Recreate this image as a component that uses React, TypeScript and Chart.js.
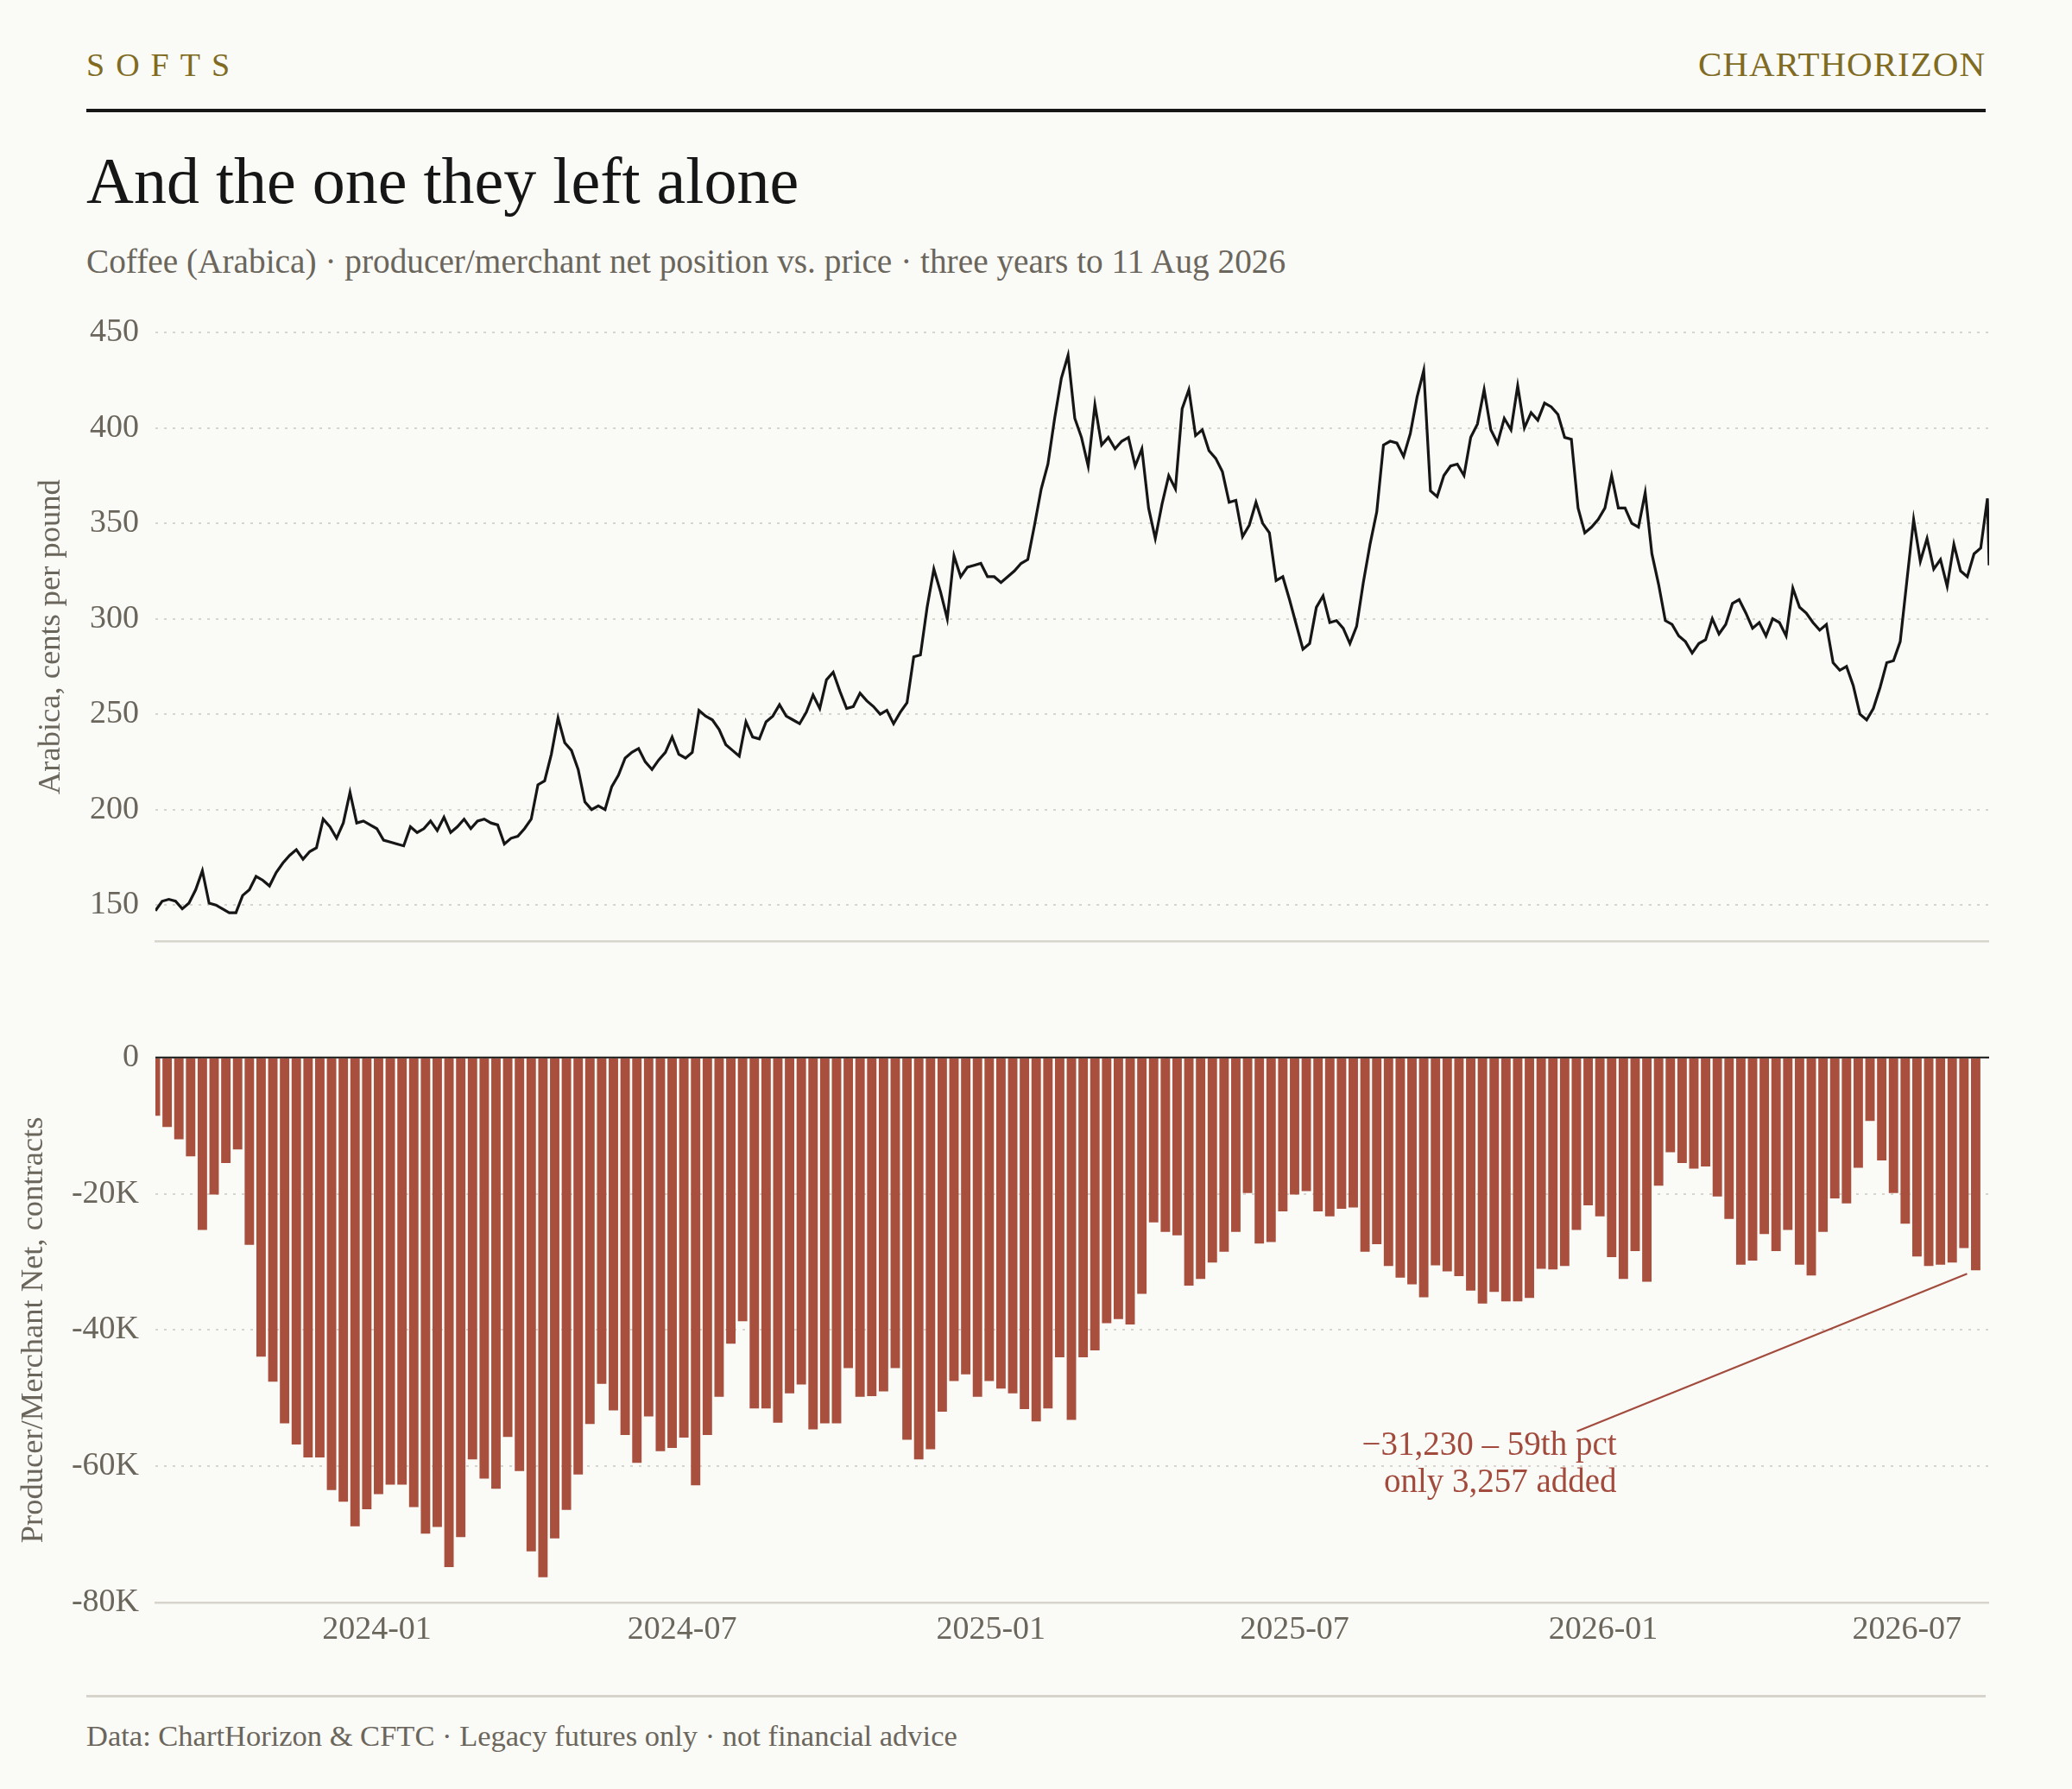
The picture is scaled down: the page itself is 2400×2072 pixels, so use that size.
import { useEffect, useRef } from "react";
import { Chart, registerables } from "chart.js";

Chart.register(...registerables);

const SERIF = "'Liberation Serif', 'Times New Roman', serif";
const BG = "#FAFAF7";
const INK = "#161616";
const MUTED = "#6b665c";
const GOLD = "#806b22";
const GRID = "#d6d4cc";
const AXIS = "#d6d4cb";
const BAR = "#a84f3e";
const RUST = "#a24b3c";

Chart.defaults.font.family = SERIF;

// x axis counts days from the first weekly COT print (Tue 22 Aug 2023)
const START_DATE = Date.UTC(2023, 7, 22);
const DAY_MS = 86400000;
const X_MAX_DAY = 1093;

const xTickLabels = ["2024-01", "2024-07", "2025-01", "2025-07", "2026-01", "2026-07"];
const priceTicks = [150, 200, 250, 300, 350, 400, 450];
const netTicks = [0, -20000, -40000, -60000, -80000];

// Arabica front month, cents/lb, one reading every 4 days
const PRICE_STEP_DAYS = 4;
const priceValues = [
  147, 152, 153, 152, 148, 151, 158, 168, 151, 150,
  148, 146, 146, 155, 158, 165, 163, 160, 167, 172,
  176, 179, 174, 178, 180, 195, 191, 185, 193, 209,
  193, 194, 192, 190, 184, 183, 182, 181, 191, 188,
  190, 194, 189, 196, 188, 191, 195, 190, 194, 195,
  193, 192, 182, 185, 186, 190, 195, 213, 215, 229,
  248, 235, 231, 221, 204, 200, 202, 200, 212, 218,
  227, 230, 232, 225, 221, 226, 230, 238, 229, 227,
  230, 252, 249, 247, 242, 234, 231, 228, 246, 238,
  237, 246, 249, 255, 249, 247, 245, 251, 260, 253,
  268, 272, 262, 253, 254, 261, 257, 254, 250, 252,
  245, 251, 256, 280, 281, 306, 326, 314, 300, 333,
  322, 327, 328, 329, 322, 322, 319, 322, 325, 329,
  331, 349, 368, 381, 405, 426, 438, 405, 395, 380,
  412, 391, 395, 389, 393, 395, 380, 389, 358, 342,
  360, 375, 368, 410, 420, 396, 399, 388, 384, 377,
  361, 362, 343, 349, 361, 350, 345, 320, 322, 310,
  297, 284, 287, 306, 312, 298, 299, 295, 287, 296,
  319, 339, 356, 391, 393, 392, 385, 397, 416, 430,
  367, 364, 375, 380, 381, 375, 395, 402, 420, 399,
  392, 405, 399, 422, 400, 408, 404, 413, 411, 407,
  395, 394, 358, 345, 348, 352, 358, 375, 358, 358,
  350, 348, 366, 334, 318, 299, 297, 291, 288, 282,
  287, 289, 300, 292, 297, 308, 310, 303, 295, 298,
  291, 300, 298, 291, 316, 306, 303, 298, 294, 297,
  277, 273, 275, 265, 250, 247, 253, 264, 277, 278,
  288, 320, 352, 330, 342, 326, 331, 317, 339, 325,
  322, 334, 337, 363,
];
const priceLastClose = 328;

// Producer/merchant net position, contracts, weekly
const netWeekly = [
  -8560, -10200, -12000, -14500, -25300, -20100, -15500, -13500, -27500, -43900,
  -47600, -53700, -56800, -58700, -58700, -63500, -65200, -68800, -66300, -64100,
  -62700, -62700, -66000, -69900, -68900, -74800, -70400, -59000, -61800, -63300,
  -55700, -60700, -72500, -76300, -70600, -66400, -61200, -53800, -47900, -51800,
  -55400, -59500, -52700, -57800, -57300, -55800, -62800, -55400, -49800, -42000,
  -38700, -51500, -51500, -53600, -49300, -48000, -54600, -53700, -53700, -45600,
  -49800, -49700, -49000, -45600, -56100, -59000, -57500, -52000, -47500, -46500,
  -49800, -47500, -48600, -49300, -51600, -53400, -51500, -44000, -53200, -44000,
  -43000, -39000, -38400, -39200, -34700, -24200, -25600, -26100, -33500, -32500,
  -30100, -28500, -25600, -19900, -27300, -27100, -22600, -20100, -19600, -22600,
  -23300, -22200, -22000, -28500, -27400, -30600, -32300, -33300, -35200, -30500,
  -31400, -32100, -34200, -36100, -34400, -35800, -35800, -35300, -31000, -31100,
  -30600, -25300, -21700, -23300, -29300, -32500, -28400, -32900, -18800, -13900,
  -15500, -16300, -16000, -20400, -23700, -30400, -29800, -25900, -28400, -25300,
  -30400, -32000, -25600, -20700, -21400, -16200, -9300, -15100, -19900, -24400,
  -29200, -30600, -30400, -30100, -27973, -31230,
];
const calloutPercentile = 59;
// where the callout text sits, in chart units (day, contracts)
const callout = { day: 871, value: -58300 };

const dayOfMonthLabel = (label: string) => {
  const [y, m] = label.split("-").map(Number);
  return (Date.UTC(y, m - 1, 1) - START_DATE) / DAY_MS;
};

const fmtK = (v: number) => (v === 0 ? "0" : `${v / 1000}K`);
const fmtInt = (v: number) => Math.abs(v).toLocaleString("en-US");

const tickFont = { size: 38, family: SERIF };
const titleFont = { size: 36.5, family: SERIF };

const calloutPlugin = {
  id: "callout",
  afterDatasetsDraw(chart: any) {
    const { ctx, chartArea, scales } = chart;
    const x = scales.x;
    const y = scales.y;
    ctx.save();
    // zero line over the bars
    const y0 = y.getPixelForValue(0);
    ctx.strokeStyle = INK;
    ctx.lineWidth = 2;
    ctx.beginPath();
    ctx.moveTo(chartArea.left, y0);
    ctx.lineTo(chartArea.right, y0);
    ctx.stroke();

    const last = netWeekly.length - 1;
    const bx = x.getPixelForValue(last * 7);
    const by = y.getPixelForValue(netWeekly[last]);
    const tx = x.getPixelForValue(callout.day);
    const ty = y.getPixelForValue(callout.value);
    ctx.strokeStyle = RUST;
    ctx.lineWidth = 2.2;
    ctx.beginPath();
    ctx.moveTo(tx - 46, ty - 27);
    ctx.lineTo(bx - 10, by + 4);
    ctx.stroke();

    const added = netWeekly[last - 1] - netWeekly[last];
    ctx.fillStyle = RUST;
    ctx.font = `39px ${SERIF}`;
    ctx.textAlign = "right";
    ctx.textBaseline = "alphabetic";
    ctx.fillText(`\u2212${fmtInt(netWeekly[last])} \u2013 ${calloutPercentile}th pct`, tx, ty);
    ctx.fillText(`only ${fmtInt(added)} added`, tx, ty + 43);
    ctx.restore();
  },
};

export default function App() {
  const priceRef = useRef<HTMLCanvasElement>(null);
  const netRef = useRef<HTMLCanvasElement>(null);

  useEffect(() => {
    document.body.style.margin = "0";
    document.body.style.background = BG;
    if (!priceRef.current || !netRef.current) return;

    const pricePoints = priceValues.map((v, i) => ({ x: i * PRICE_STEP_DAYS, y: v }));
    pricePoints.push({ x: X_MAX_DAY, y: priceLastClose });

    const priceChart = new Chart(priceRef.current, {
      type: "line",
      data: {
        datasets: [
          {
            data: pricePoints,
            borderColor: INK,
            borderWidth: 3.2,
            pointRadius: 0,
            tension: 0,
            fill: false,
          },
        ],
      },
      options: {
        responsive: false,
        animation: false,
        layout: { padding: { top: 45, bottom: 2, left: 0, right: 0 } },
        plugins: { legend: { display: false }, tooltip: { enabled: false } },
        scales: {
          x: {
            type: "linear",
            min: 0,
            max: X_MAX_DAY,
            ticks: { display: false },
            grid: { display: false, drawTicks: false },
            border: { display: true, color: AXIS, width: 2.5 },
          },
          y: {
            min: 131,
            max: 450,
            afterBuildTicks: (s: any) => {
              s.ticks = priceTicks.map((v) => ({ value: v }));
            },
            afterFit: (s: any) => {
              s.width = 180;
            },
            ticks: { color: MUTED, font: tickFont, padding: 19 },
            grid: { color: GRID, lineWidth: 2, drawTicks: false },
            border: { display: false, dash: [3, 7] },
            title: {
              display: true,
              text: "Arabica, cents per pound",
              color: MUTED,
              font: titleFont,
              padding: { top: 38, bottom: 0 },
            },
          },
        },
      },
    });

    const netChart = new Chart(netRef.current, {
      type: "bar",
      data: {
        datasets: [
          {
            data: netWeekly.map((v, k) => ({ x: k * 7, y: v })),
            backgroundColor: BAR,
            barPercentage: 0.8,
            categoryPercentage: 1,
            clip: 0,
          } as any,
        ],
      },
      options: {
        responsive: false,
        animation: false,
        layout: { padding: { top: 41, bottom: 7, left: 0, right: 0 } },
        plugins: { legend: { display: false }, tooltip: { enabled: false } },
        scales: {
          x: {
            type: "linear",
            min: 0,
            max: X_MAX_DAY,
            offset: false,
            afterBuildTicks: (s: any) => {
              s.ticks = xTickLabels.map((l) => ({ value: dayOfMonthLabel(l) }));
            },
            afterFit: (s: any) => {
              s.height = 60;
            },
            ticks: {
              callback: (_v: any, i: number) => xTickLabels[i],
              color: MUTED,
              font: tickFont,
              padding: 9,
              maxRotation: 0,
              autoSkip: false,
            },
            grid: { display: false, drawTicks: false, offset: false },
            border: { display: true, color: AXIS, width: 2.5 },
          },
          y: {
            min: -80000,
            max: 0,
            afterBuildTicks: (s: any) => {
              s.ticks = netTicks.map((v) => ({ value: v }));
            },
            afterFit: (s: any) => {
              s.width = 180;
            },
            ticks: { color: MUTED, font: tickFont, padding: 19, callback: (v: any) => fmtK(Number(v)) },
            grid: { color: GRID, lineWidth: 2, drawTicks: false },
            border: { display: false, dash: [3, 7] },
            title: {
              display: true,
              text: "Producer/Merchant Net, contracts",
              color: MUTED,
              font: titleFont,
              padding: { top: 18, bottom: 0 },
            },
          },
        },
      },
      plugins: [calloutPlugin],
    });

    return () => {
      priceChart.destroy();
      netChart.destroy();
    };
  }, []);

  const abs = (style: any) => ({ position: "absolute" as const, margin: 0, lineHeight: 1, whiteSpace: "nowrap" as const, ...style });

  return (
    <div style={{ position: "relative", width: 2400, height: 2072, background: BG, fontFamily: SERIF, overflow: "hidden" }}>
      <div style={abs({ left: 100, top: 56, fontSize: 38, letterSpacing: 13, color: GOLD })}>SOFTS</div>
      <div style={abs({ right: 100, top: 54, fontSize: 41, letterSpacing: 1, color: GOLD })}>CHARTHORIZON</div>
      <div style={abs({ left: 100, top: 126, width: 2200, height: 4, background: INK })} />
      <div style={abs({ left: 100, top: 171, fontSize: 76, color: INK })}>And the one they left alone</div>
      <div style={abs({ left: 100, top: 284, fontSize: 39.3, color: MUTED })}>
        Coffee (Arabica) · producer/merchant net position vs. price · three years to 11 Aug 2026
      </div>

      <canvas ref={priceRef} width={2304} height={792} style={{ position: "absolute", left: 0, top: 340 }} />
      <canvas ref={netRef} width={2304} height={740} style={{ position: "absolute", left: 0, top: 1183 }} />

      <div style={abs({ left: 100, top: 1963, width: 2200, height: 3, background: AXIS })} />
      <div style={abs({ left: 100, top: 1993, fontSize: 34.5, color: MUTED })}>
        Data: ChartHorizon &amp; CFTC · Legacy futures only · not financial advice
      </div>
    </div>
  );
}
